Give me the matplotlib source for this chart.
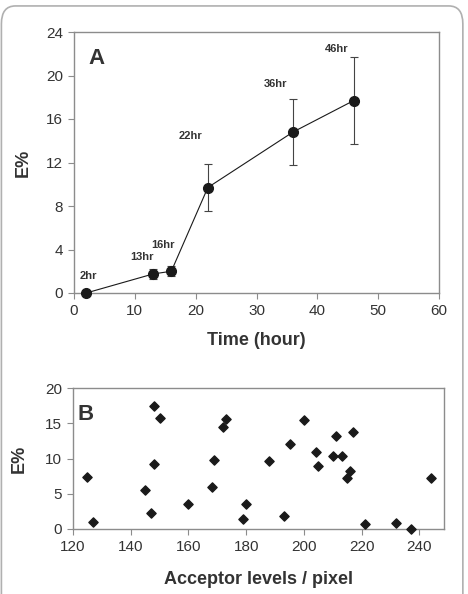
import matplotlib.pyplot as plt
from matplotlib.patches import FancyBboxPatch

plt.rcParams['font.family'] = ['Liberation Sans', 'DejaVu Sans']

# panel A: E% over time
time_hr = [2, 13, 16, 22, 36, 46]
e_pct = [0.0, 1.75, 2.0, 9.7, 14.8, 17.7]
e_err = [0.0, 0.45, 0.45, 2.2, 3.0, 4.0]
time_labels = ['2hr', '13hr', '16hr', '22hr', '36hr', '46hr']
label_x = [2.3, 11.1, 14.7, 19.2, 33.2, 43.2]
label_y = [1.6, 3.3, 4.45, 14.45, 19.25, 22.4]

# panel B: E% vs acceptor level
acceptor = [125, 127, 145, 147, 148, 148, 150, 160, 168, 169, 172, 173, 179, 180,
            188, 193, 195, 200, 204, 205, 210, 211, 213, 215, 216, 217, 221, 232,
            237, 244]
e_pct_b = [7.4, 1.0, 5.6, 2.2, 17.4, 9.2, 15.7, 3.6, 6.0, 9.8, 14.5, 15.6, 1.4, 3.5,
           9.6, 1.8, 12.1, 15.4, 10.9, 9.0, 10.3, 13.2, 10.3, 7.3, 8.2, 13.7, 0.7, 0.9,
           0.0, 7.2]

frame_col = '#8c8c8c'
text_col = '#333333'

fig = plt.figure(figsize=(4.68, 5.94), dpi=100)

# rounded outer border (bottom edge runs off the image)
border = FancyBboxPatch((0.003, -0.05), 0.986, 1.04, boxstyle='round,pad=0,rounding_size=0.03',
                        transform=fig.transFigure, fill=False, edgecolor='#b0b0b0', linewidth=1.2)
fig.patches.append(border)


def style_axes(ax):
    for s in ax.spines.values():
        s.set_color(frame_col)
        s.set_linewidth(1.0)
    ax.tick_params(direction='out', length=4, width=0.8, color=frame_col,
                   labelcolor=text_col, labelsize=11, pad=4)


# panel A
ax1 = fig.add_axes([74 / 468, 1 - 293 / 594, (439 - 74) / 468, (293 - 32) / 594])
ax1.errorbar(time_hr, e_pct, yerr=e_err, color='#1a1a1a', marker='o', markersize=7,
             linewidth=0.8, elinewidth=0.8, ecolor='#444444', capsize=3, capthick=0.8,
             clip_on=False, zorder=3)
ax1.set_xlim(0, 60)
ax1.set_ylim(0, 24)
ax1.set_xticks(range(0, 61, 10))
ax1.set_yticks(range(0, 25, 4))
style_axes(ax1)
ax1.set_xlabel('Time (hour)', fontsize=13, fontweight='bold', color=text_col, labelpad=10)
ax1.set_ylabel('E%', fontsize=13, fontweight='bold', color=text_col, labelpad=10)
for lx, ly, t in zip(label_x, label_y, time_labels):
    ax1.text(lx, ly, t, fontsize=8, fontweight='bold', color=text_col, ha='center', va='center')
ax1.text(3.7, 21.6, 'A', fontsize=16, fontweight='bold', color=text_col, ha='center', va='center')

# panel B
ax2 = fig.add_axes([73 / 468, 1 - 529 / 594, (444 - 73) / 468, (529 - 388) / 594])
ax2.scatter(acceptor, e_pct_b, marker='D', s=22, color='#1a1a1a', clip_on=False, zorder=3)
ax2.set_xlim(120, 248.5)
ax2.set_ylim(0, 20)
ax2.set_xticks(range(120, 241, 20))
ax2.set_yticks(range(0, 21, 5))
style_axes(ax2)
ax2.set_xlabel('Acceptor levels / pixel', fontsize=13, fontweight='bold', color=text_col, labelpad=12)
ax2.set_ylabel('E%', fontsize=13, fontweight='bold', color=text_col, labelpad=12)
ax2.text(124.2, 16.2, 'B', fontsize=16, fontweight='bold', color=text_col, ha='center', va='center')

fig.savefig('out.png', dpi=100)
